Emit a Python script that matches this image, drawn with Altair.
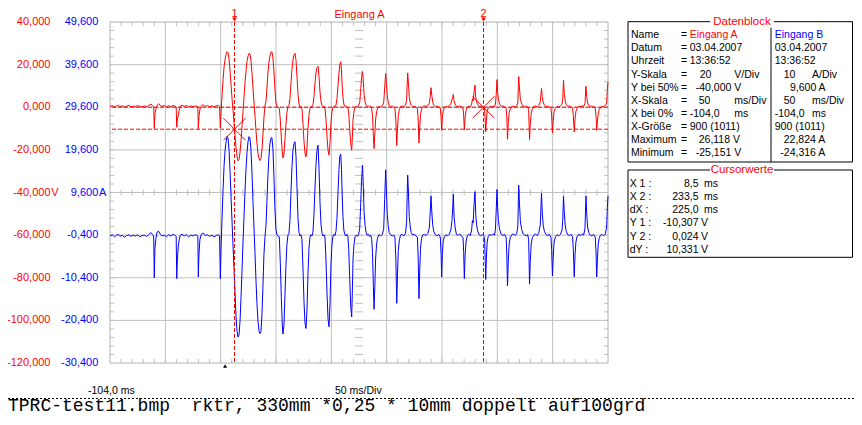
import altair as alt
import pandas as pd

# ------------------------------------------------------------------ data
# sample times (ms) shared by both inputs, split in segments
t_pre = [-104.0, -102.0, -100.0, -98.0, -96.5, -95.0, -93.0, -91.0, -89.0, -87.0,
         -85.0, -83.0, -81.0, -79.0, -77.0, -75.0, -73.0, -71.0, -69.0, -67.0,
         -65.5, -64.5, -64.0, -63.4, -62.5, -61.5, -60.0, -58.5, -57.0, -55.0,
         -53.0, -51.0, -49.0, -47.0, -45.0, -44.2, -43.7, -43.1, -42.3, -41.5,
         -40.5, -39.0, -37.0, -35.0, -33.0, -31.0, -29.0, -27.0, -25.0, -24.6,
         -24.2, -23.6, -22.8, -21.5, -20.0, -18.0, -16.0, -14.0, -12.0, -10.0,
         -8.0, -6.0, -5.0, -4.3]
a_pre = [0.4, 0.8, 0.2, 0.6, 1.0, 0.3, 0.7, 0.1, 0.5, 0.9,
         0.2, 0.6, 0.3, 0.8, 0.4, 0.1, 0.6, 0.3, 0.9, 1.5,
         0.8, 0.2, -10.0, -3.0, -0.8, 0.9, 1.6, 0.9, 0.4, 0.8,
         0.2, 0.7, 0.3, 0.9, 0.5, 0.2, -9.4, -5.5, -4.0, -1.5,
         0.5, 0.9, 0.4, 0.8, 0.2, 0.6, 0.3, 0.7, 0.4, 0.1,
         -10.0, -4.5, -1.0, 0.6, 1.2, 0.4, 0.8, 0.3, 0.7, 0.2,
         0.6, 0.9, 0.3, -9.7]
b_pre = [-0.6, -0.3, -0.8, -0.4, -0.2, -0.7, -0.4, -0.9, -0.5, -0.3,
         -0.7, -0.4, -0.6, -0.3, -0.8, -0.5, -0.4, -0.7, -0.3, 0.2,
         -0.3, -0.6, -10.4, -3.5, -1.2, 0.3, 0.5, -0.2, -0.6, -0.4,
         -0.8, -0.3, -0.6, -0.2, -0.5, -0.7, -10.6, -6.0, -3.0, -1.5,
         -0.4, -0.2, -0.6, -0.3, -0.8, -0.4, -0.6, -0.3, -0.5, -0.7,
         -10.2, -5.0, -1.5, -0.2, 0.1, -0.5, -0.3, -0.7, -0.4, -0.8,
         -0.5, -0.3, -0.6, -10.6]

t_osc = [-3.6, -2.7, -1.8, -0.9, 0.0, 0.9, 1.8, 2.7, 3.6, 4.5,
         5.4, 6.3, 7.2, 8.1, 8.5, 9.0, 9.9, 10.8, 11.7, 12.6,
         13.5, 14.4, 15.3, 16.2, 17.1, 18.0, 18.9, 19.8, 20.7, 21.6,
         22.5, 23.4, 24.3, 25.2, 26.1, 27.0, 27.9, 28.8, 29.7, 30.6,
         31.5, 32.4, 33.3, 34.2, 35.1]
a_osc = [-2.0, 6.0, 13.0, 19.0, 22.5, 24.8, 26.1, 25.6, 22.5, 17.0,
         10.5, 4.0, -1.5, -7.5, -10.3, -13.5, -19.0, -23.0, -25.1, -24.5,
         -21.0, -15.5, -9.0, -2.0, 5.0, 11.5, 17.0, 21.5, 24.0, 25.3,
         25.0, 22.0, 16.0, 9.0, 2.5, -4.0, -11.0, -17.0, -21.5, -24.0,
         -25.0, -24.2, -20.0, -13.0, -5.0]
b_osc = [-3.0, 4.0, 10.5, 16.0, 19.5, 21.5, 22.8, 22.3, 19.5, 14.5,
         8.5, 2.5, -3.0, -8.5, -11.0, -14.0, -19.5, -23.0, -24.3, -23.8,
         -20.5, -15.0, -8.5, -2.0, 4.0, 10.0, 15.0, 19.0, 21.5, 22.7,
         22.4, 19.5, 14.0, 7.5, 1.5, -4.5, -11.0, -16.5, -20.5, -22.8,
         -23.5, -23.0, -19.0, -12.5, -5.0]

t_pulse = [36.0, 37.0, 37.8, 38.7, 39.6, 40.5, 41.4, 42.3, 43.2, 44.1,
           45.0, 45.9, 46.8, 47.7, 49.0, 49.9, 50.8, 51.7, 52.3, 53.2,
           54.1, 55.0, 55.9, 56.8, 57.7, 58.6, 59.5, 60.4, 61.3, 62.2,
           63.2, 64.1, 65.0, 65.9, 66.8, 67.7, 68.6, 69.5, 70.4, 71.3,
           72.2, 73.1, 74.0, 74.9, 75.8, 76.7, 77.6, 78.5, 79.4, 80.3,
           81.2, 82.1, 83.0, 84.0, 84.9, 85.8, 86.7, 87.6, 88.5, 89.4,
           90.3, 91.2, 92.1, 93.0, 93.9, 94.8, 95.7, 96.6, 97.5, 98.4,
           99.3, 100.2, 101.1, 102.0, 102.9, 103.6, 104.5, 105.2, 105.8, 106.5,
           107.3, 108.2, 109.1, 110.0, 111.0, 111.7, 112.6, 113.5, 114.4, 115.0,
           115.6, 116.5, 117.4]
a_pulse = [0.5, 3.0, 9.0, 16.0, 21.0, 24.0, 25.8, 26.0, 23.5, 17.0,
           9.0, 2.5, 0.5, 0.2, -0.5, -6.0, -14.0, -21.0, -23.8, -22.0,
           -15.0, -8.0, -2.5, 0.3, 0.8, 4.0, 11.0, 17.5, 22.0, 24.5,
           25.3, 22.0, 14.0, 6.0, 1.5, 0.3, 0.5, -1.0, -8.0, -16.0,
           -21.5, -23.3, -19.0, -10.0, -3.5, -0.5, 0.4, 0.2, 1.0, 5.0,
           11.0, 16.0, 18.5, 19.2, 14.0, 7.0, 2.5, 0.8, 0.2, 0.5,
           -0.5, -6.0, -14.0, -20.0, -22.5, -17.0, -7.0, -2.0, 0.0, 0.5,
           0.3, 1.0, 4.0, 10.0, 16.0, 20.0, 21.3, 17.0, 10.0, 5.0,
           1.5, 0.4, 0.6, 0.2, -0.3, -3.0, -10.0, -17.0, -20.2, -14.0,
           -6.0, -2.0, -0.2]
b_pulse = [-1.0, 2.0, 7.5, 13.5, 18.0, 21.0, 22.3, 22.5, 20.0, 13.5,
           6.0, 1.0, -0.3, -0.6, -0.8, -7.0, -15.0, -21.5, -23.6, -21.5,
           -14.5, -7.5, -2.5, -0.4, 0.0, 3.0, 9.5, 15.5, 19.5, 21.0,
           21.5, 18.0, 10.5, 3.5, 0.2, -0.6, -0.3, -1.5, -8.5, -16.0,
           -21.0, -22.3, -18.0, -9.5, -3.5, -0.9, -0.3, -0.6, 0.3, 4.5,
           10.5, 16.0, 19.5, 20.7, 15.0, 7.0, 2.0, 0.0, -0.6, -0.3,
           -1.0, -6.5, -14.0, -20.0, -21.9, -16.5, -7.0, -2.5, -0.6, -0.2,
           -0.5, 0.5, 3.5, 9.5, 15.0, 18.0, 18.6, 15.0, 9.0, 4.0,
           0.8, -0.3, -0.6, -0.2, -0.8, -3.5, -10.5, -17.0, -19.6, -13.5,
           -6.0, -2.5, -0.8]

t_spike = [118.5, 119.5, 120.5, 121.6, 122.4, 123.3, 124.2, 124.9, 125.6, 126.5,
           127.4, 128.3, 129.5, 130.5, 131.5, 132.4, 133.2, 134.0, 134.6, 135.3,
           136.0, 136.9, 137.8, 139.0, 140.5, 142.0, 143.3, 144.2, 145.1, 145.8,
           146.5, 147.4, 148.3, 149.5, 151.0, 152.5, 153.5, 154.3, 155.1, 155.8,
           156.5, 157.5, 158.5, 160.0, 161.5, 163.0, 164.0, 164.5, 165.0, 165.7,
           166.4, 167.3, 168.2, 169.5, 171.0, 172.5, 173.8, 174.5, 175.2, 175.9,
           176.6, 177.5, 178.5, 180.0, 181.5, 183.0, 184.5, 185.4, 186.1, 186.8,
           187.6, 188.5, 190.0, 191.5, 193.0, 194.5, 195.2, 195.7, 196.3, 197.0,
           198.0, 199.5, 201.0, 202.5, 204.0, 205.0, 205.6, 206.2, 206.9, 207.8,
           209.0, 210.5, 212.0, 213.5, 215.0, 215.6, 216.2, 216.9, 217.7, 218.8,
           220.0, 221.5, 222.8, 223.5, 224.2, 224.9, 225.8, 226.5, 227.3, 228.2,
           229.5, 231.0, 232.5, 233.5, 234.5, 235.0, 235.5, 236.1, 236.8, 237.8,
           239.0, 240.5, 242.0, 243.5, 244.3, 245.0, 245.7, 246.3, 247.0, 248.0,
           249.5, 251.0, 252.5, 254.0, 254.6, 255.2, 255.9, 256.7, 257.7, 259.0,
           260.5, 262.0, 263.5, 264.5, 265.3, 266.0, 266.8, 267.8, 269.0, 270.5,
           272.0, 273.5, 274.3, 275.1, 275.8, 276.6, 277.6, 279.0, 280.5, 282.0,
           283.5, 284.8, 285.9, 286.6, 287.4, 288.5, 290.0, 291.5, 293.0, 294.5,
           295.1, 295.8, 296.5, 297.3, 298.5, 300.0, 301.5, 303.0, 304.5, 305.1,
           305.8, 306.5, 307.3, 308.3, 309.5, 311.0, 312.5, 314.0, 314.7, 315.5,
           316.2, 317.0, 318.0, 319.5, 321.0, 322.5, 324.0, 325.2, 326.1, 326.8,
           327.6, 328.6, 330.0, 331.5, 333.0, 334.5, 335.2, 335.8, 336.5, 337.2,
           338.0, 339.0, 340.5, 342.0, 343.5, 344.8, 345.4, 346.0]
a_spike = [0.5, 0.2, 0.8, 2.0, 7.0, 14.0, 16.8, 12.0, 6.0, 2.5,
           1.0, 0.3, 0.6, 0.1, 0.4, -0.5, -4.0, -13.0, -19.4, -13.0,
           -6.0, -2.0, -0.5, 0.4, 0.2, 0.7, 2.0, 9.0, 15.8, 11.0,
           5.5, 2.5, 0.8, 0.3, 0.6, 0.0, -0.5, -6.0, -17.9, -10.0,
           -4.0, -1.0, 0.3, 0.6, 0.2, 0.9, 3.0, 10.0, 16.1, 11.0,
           5.0, 2.0, 0.8, 0.2, 0.5, 0.1, -0.4, -6.0, -16.8, -9.0,
           -3.5, -1.0, 0.2, 0.7, 0.3, 0.9, 1.8, 5.0, 9.2, 5.5,
           2.5, 1.0, 0.3, 0.6, 0.1, -0.5, -5.0, -10.8, -5.0, -2.0,
           -0.5, 0.4, 0.2, 0.8, 1.5, 3.5, 4.5, 6.0, 3.0, 1.5,
           0.4, 0.2, 0.7, 0.1, -0.5, -4.0, -10.6, -4.5, -1.5, 0.0,
           0.5, 0.2, 1.5, 4.0, 3.0, 7.0, 10.4, 4.5, 2.5, 1.2,
           0.3, 0.5, 0.1, 0.024, -0.8, -6.0, -11.6, -6.5, -2.0, -0.3,
           0.4, 0.1, 0.6, 0.3, 1.5, 6.0, 13.0, 7.0, 3.5, 1.5,
           0.4, 0.6, 0.2, -0.5, -5.0, -15.0, -7.0, -2.5, -0.8, 0.3,
           0.5, 0.1, 0.7, 2.0, 14.4, 9.0, 4.0, 2.0, 0.5, 0.3,
           0.6, 0.1, -1.0, -15.2, -8.0, -3.0, -1.0, 0.3, 0.6, 0.2,
           0.8, 2.5, 8.8, 5.0, 2.5, 1.0, 0.3, 0.5, 0.1, -0.6,
           -4.0, -12.1, -6.0, -2.0, -0.5, 0.4, 0.2, 0.6, 1.5, 4.0,
           12.7, 6.5, 3.0, 1.2, 0.4, 0.6, 0.1, -0.4, -4.0, -11.6,
           -5.5, -2.0, -0.5, 0.5, 0.2, 0.7, 0.4, 1.8, 9.9, 5.0,
           2.0, 0.8, 0.3, 0.6, 0.1, -0.5, -4.5, -10.8, -6.0, -3.0,
           -1.2, -0.3, 0.5, 0.3, 0.8, 2.0, 8.0, 11.9]
b_spike = [-0.4, -0.7, -0.3, 1.0, 6.0, 12.5, 16.0, 11.0, 5.0, 1.8,
           0.3, -0.4, -0.2, -0.7, -0.4, -1.2, -4.5, -12.5, -17.8, -12.5,
           -6.0, -2.5, -1.0, -0.3, -0.6, -0.2, 1.0, 8.0, 14.9, 10.0,
           4.5, 1.8, 0.2, -0.3, -0.6, -0.4, -1.0, -6.0, -16.4, -9.5,
           -4.0, -1.5, -0.4, -0.2, -0.6, 0.0, 2.5, 8.5, 13.7, 9.5,
           4.0, 1.5, 0.2, -0.4, -0.2, -0.6, -0.9, -6.0, -15.3, -8.5,
           -3.5, -1.2, -0.4, -0.2, -0.5, -0.1, 1.2, 5.0, 8.8, 5.0,
           2.0, 0.5, -0.3, -0.6, -0.2, -0.9, -5.0, -10.2, -5.0, -2.0,
           -0.8, -0.3, -0.6, -0.2, 0.8, 3.0, 5.5, 9.2, 4.0, 1.5,
           -0.2, -0.5, -0.1, -0.6, -1.0, -4.5, -10.6, -5.0, -2.0, -0.6,
           -0.2, -0.5, 0.8, 3.0, 2.5, 6.5, 9.8, 4.5, 2.0, 0.6,
           -0.3, -0.6, -0.2, -0.4, -1.2, -6.0, -10.8, -6.0, -2.0, -0.7,
           -0.2, -0.5, -0.1, -0.4, 1.0, 5.5, 10.3, 6.0, 3.0, 1.0,
           -0.2, -0.5, -0.2, -1.0, -5.5, -12.3, -6.5, -2.5, -1.0, -0.3,
           -0.1, -0.5, 0.0, 1.5, 11.3, 7.0, 3.0, 1.2, 0.0, -0.3,
           -0.6, -0.3, -1.5, -11.9, -6.5, -2.5, -1.0, -0.4, -0.1, -0.5,
           0.2, 2.0, 9.4, 5.0, 2.0, 0.5, -0.3, -0.5, -0.2, -1.0,
           -4.0, -10.0, -5.5, -2.0, -0.8, -0.3, -0.6, -0.2, 0.8, 3.0,
           8.8, 5.0, 2.0, 0.5, -0.3, -0.5, -0.2, -0.8, -4.0, -10.2,
           -5.0, -2.0, -0.8, -0.2, -0.5, -0.1, -0.4, 1.2, 8.8, 4.5,
           1.5, 0.2, -0.4, -0.6, -0.2, -0.9, -4.5, -10.2, -5.5, -2.5,
           -1.2, -0.5, -0.2, -0.6, -0.2, 1.5, 6.0, 8.8]

time_ms = t_pre + t_osc + t_pulse + t_spike
eingang_a = a_pre + a_osc + a_pulse + a_spike      # V
eingang_b = b_pre + b_osc + b_pulse + b_spike      # A

# axis labels
red_ticks = [40, 20, 0, -20, -40, -60, -80, -100, -120]
red_labels = ["40,000", "20,000", "0,000", "-20,000", "-40,000", "-60,000",
              "-80,000", "-100,000", "-120,000"]
blue_ticks = [49.6, 39.6, 29.6, 19.6, 9.6, -0.4, -10.4, -20.4, -30.4]
blue_labels = ["49,600", "39,600", "29,600", "19,600", "9,600", "-0,400",
               "-10,400", "-20,400", "-30,400"]

# cursors
cursor_x = [8.5, 233.5]
cursor_y = [-10.307, 0.024]
cursor_names = ["1", "2"]
trigger_ms = [0.0]

# data block
db_labels = ["Name", "Datum", "Uhrzeit", "Y-Skala", "Y bei 50%", "X-Skala",
             "X bei 0%", "X-Größe", "Maximum", "Minimum"]
db_a_text = ["Eingang A", "03.04.2007", "13:36:52", "20", "-40,000 V", "50",
             "-104,0", "900 (1011)", "26,118 V", "-25,151 V"]
db_a_unit = ["", "", "", "V/Div", "", "ms/Div", "ms", "", "", ""]
db_b_text = ["Eingang B", "03.04.2007", "13:36:52", "10", "9,600 A", "50",
             "-104,0", "900 (1011)", "22,824 A", "-24,316 A"]
db_b_unit = ["", "", "", "A/Div", "", "ms/Div", "ms", "", "", ""]

cw_labels = ["X 1 :", "X 2 :", "dX :", "Y 1 :", "Y 2 :", "dY :"]
cw_values = ["8,5", "233,5", "225,0", "-10,307", "0,024", "10,331"]
cw_units = ["ms", "ms", "ms", "V", "V", "V"]

footer_text = "TPRC-test11.bmp\u00a0\u00a0rktr, 330mm *0,25 * 10mm doppelt auf100grd"

# ------------------------------------------------------------------ layout
W, H = 498, 341
RED, BLUE, GRID, BORDER = "#ff0000", "#0000ff", "#c0c0c0", "#b0b0b0"
SANS = "Liberation Sans, Arial, sans-serif"
MONO = "Liberation Mono, Courier New, monospace"

xs = alt.Scale(domain=[-104, 346], nice=False, zero=False)
ys_a = alt.Scale(domain=[-120, 40], nice=False, zero=False)
ys_b = alt.Scale(domain=[-30.4, 49.6], nice=False, zero=False)


def X(f):
    return alt.X(f, type="quantitative", scale=xs, axis=None)


def YA(f):
    return alt.Y(f, type="quantitative", scale=ys_a, axis=None)


def YB(f):
    return alt.Y(f, type="quantitative", scale=ys_b, axis=None)


def PX(f):
    return alt.X(f, type="quantitative", scale=None, axis=None)


def PY(f):
    return alt.Y(f, type="quantitative", scale=None, axis=None)


one = pd.DataFrame({"k": [0]})
layers = []

# grid
grid_t = pd.DataFrame({"t": [-104 + 50 * k for k in range(1, 9)]})
grid_v = pd.DataFrame({"v": [-120 + 20 * k for k in range(1, 8)]})
layers.append(alt.Chart(grid_t).mark_rule(color=GRID, strokeWidth=1).encode(x=X("t")))
layers.append(alt.Chart(grid_v).mark_rule(color=GRID, strokeWidth=1).encode(y=YA("v")))

# minor ticks
minor_t = pd.DataFrame({"t": [-104 + 10 * k for k in range(1, 45)]})
minor_v = pd.DataFrame({"v": [-120 + 4 * k for k in range(1, 40)]})
for y0, y1 in [(0, 4), (H - 4, H), (H / 2 - 3, H / 2 + 3)]:
    layers.append(alt.Chart(minor_t).mark_rule(color=GRID, strokeWidth=1).encode(
        x=X("t"), y=alt.value(y0), y2=alt.value(y1)))
for x0, x1 in [(0, 4), (W - 4, W), (W / 2 - 4, W / 2 + 4)]:
    layers.append(alt.Chart(minor_v).mark_rule(color=GRID, strokeWidth=1).encode(
        y=YA("v"), x=alt.value(x0), x2=alt.value(x1)))

# plot border
layers.append(alt.Chart(one).mark_rect(filled=False, color=BORDER, strokeWidth=1).encode(
    x=alt.value(0), x2=alt.value(W), y=alt.value(0), y2=alt.value(H)))

# traces
tr = pd.DataFrame({"t": time_ms, "a": eingang_a, "b": eingang_b})
layers.append(alt.Chart(tr).mark_line(color=BLUE, strokeWidth=1).encode(x=X("t"), y=YB("b")))
layers.append(alt.Chart(tr).mark_line(color=RED, strokeWidth=1).encode(x=X("t"), y=YA("a")))

# cursors
cur = pd.DataFrame({"t": cursor_x, "v": cursor_y, "n": cursor_names})
layers.append(alt.Chart(cur).mark_rule(color=RED, strokeWidth=1, strokeDash=[4, 2]).encode(x=X("t")))
layers.append(alt.Chart(cur).mark_rule(color=RED, strokeWidth=1, strokeDash=[4, 2]).encode(y=YA("v")))
layers.append(alt.Chart(cur).mark_point(shape="M-1,-1L1,1M1,-1L-1,1", size=484, color=RED,
                                        filled=False, strokeWidth=1, opacity=1).encode(
    x=X("t"), y=YA("v")))
layers.append(alt.Chart(cur).mark_text(color=RED, font=SANS, fontSize=11, baseline="middle").encode(
    x=X("t"), y=alt.value(-8), text="n:N"))
layers.append(alt.Chart(cur).mark_point(shape="triangle-down", filled=True, size=22, color=RED,
                                        opacity=1).encode(x=X("t"), y=alt.value(-2.5)))

# trigger marker
trig = pd.DataFrame({"t": trigger_ms})
layers.append(alt.Chart(trig).mark_point(shape="triangle-up", filled=True, size=16, color="black",
                                         opacity=1).encode(x=X("t"), y=alt.value(344)))

# left axis labels
RED_RIGHT, BLUE_RIGHT = 50.5 - 110, 98.3 - 110
ra = pd.DataFrame({"v": red_ticks, "lab": red_labels})
ba = pd.DataFrame({"v": blue_ticks, "lab": blue_labels})
layers.append(alt.Chart(ra).mark_text(color=RED, font=SANS, fontSize=11, align="right",
                                      baseline="middle").encode(
    x=alt.value(RED_RIGHT), y=YA("v"), text="lab:N"))
layers.append(alt.Chart(ba).mark_text(color=BLUE, font=SANS, fontSize=11, align="right",
                                      baseline="middle").encode(
    x=alt.value(BLUE_RIGHT), y=YB("v"), text="lab:N"))
layers.append(alt.Chart(pd.DataFrame({"v": [-40]})).mark_text(
    color=RED, font=SANS, fontSize=11, align="left", baseline="middle").encode(
    x=alt.value(RED_RIGHT + 0.8), y=YA("v"), text=alt.value("V")))
layers.append(alt.Chart(pd.DataFrame({"v": [9.6]})).mark_text(
    color=BLUE, font=SANS, fontSize=11, align="left", baseline="middle").encode(
    x=alt.value(BLUE_RIGHT + 0.8), y=YB("v"), text=alt.value("A")))

# title and bottom labels
layers.append(alt.Chart(one).mark_text(color=RED, font=SANS, fontSize=11, align="center",
                                       baseline="alphabetic").encode(
    x=alt.value(249.5), y=alt.value(-4.5), text=alt.value("Eingang A")))
layers.append(alt.Chart(one).mark_text(color="black", font=SANS, fontSize=10.5, align="left",
                                       baseline="middle").encode(
    x=alt.value(-22), y=alt.value(369), text=alt.value("-104,0 ms")))
layers.append(alt.Chart(one).mark_text(color="black", font=SANS, fontSize=10.5, align="left",
                                       baseline="middle").encode(
    x=alt.value(225), y=alt.value(369), text=alt.value("50 ms/Div")))
layers.append(alt.Chart(one).mark_rule(color="black", strokeWidth=1, strokeDash=[2, 2]).encode(
    x=alt.value(-102), x2=alt.value(744), y=alt.value(376.5)))
layers.append(alt.Chart(one).mark_text(color="black", font=MONO, fontSize=18, align="left",
                                       baseline="alphabetic").encode(
    x=alt.value(-102), y=alt.value(388.5), text=alt.value(footer_text)))

# ------------------------------------------------------------------ data panels
SH = 113  # reference pixel -> plot-group pixel (x)
TOP = 22  # reference pixel -> plot-group pixel (y)
BOX_L, BOX_R = 631 - SH, 852.5 - 110
db_rows_y = [35, 48.3, 61.3, 74.7, 87.7, 101, 114, 127, 140, 153.3]
db_a_x = [692.7, 692.7, 692.7, 702.7, 698.7, 701.7, 692.7, 692.7, 701.7, 698.7]
db_b_x = [777.7, 777.7, 777.7, 786.7, 793.0, 786.7, 777.7, 777.7, 786.7, 783.3]
cw_rows_y = [184, 197, 210.3, 223, 236.7, 249.7]

# boxes
layers.append(alt.Chart(one).mark_rect(filled=False, color="black", strokeWidth=1).encode(
    x=alt.value(BOX_L), x2=alt.value(BOX_R), y=alt.value(21.7 - TOP), y2=alt.value(162 - TOP)))
layers.append(alt.Chart(one).mark_rule(color="black", strokeWidth=1).encode(
    x=alt.value(774 - SH), y=alt.value(23 - TOP), y2=alt.value(162 - TOP)))
layers.append(alt.Chart(one).mark_rect(filled=False, color="black", strokeWidth=1).encode(
    x=alt.value(BOX_L), x2=alt.value(BOX_R), y=alt.value(170 - TOP), y2=alt.value(257.3 - TOP)))
for ty, title in [(21.7, "Datenblock"), (170, "Cursorwerte")]:
    layers.append(alt.Chart(one).mark_rect(color="white").encode(
        x=alt.value(745 - SH - 32), x2=alt.value(745 - SH + 32),
        y=alt.value(ty - TOP - 6), y2=alt.value(ty - TOP + 6)))
    layers.append(alt.Chart(one).mark_text(color=RED, font=SANS, fontSize=11.5, align="center",
                                           baseline="middle").encode(
        x=alt.value(745 - SH), y=alt.value(ty - TOP), text=alt.value(title)))

left_rows = []
for i, lab in enumerate(db_labels):
    yy = db_rows_y[i] - TOP
    left_rows.append((634 - SH, yy, lab, "black"))
    left_rows.append((684 - SH, yy, "=", "black"))
    left_rows.append((db_a_x[i] - SH, yy, db_a_text[i], RED if i == 0 else "black"))
    left_rows.append((db_b_x[i] - SH, yy, db_b_text[i], BLUE if i == 0 else "black"))
    if db_a_unit[i]:
        left_rows.append((737.3 - SH, yy, db_a_unit[i], "black"))
    if db_b_unit[i]:
        left_rows.append((815 - SH, yy, db_b_unit[i], "black"))
for i, lab in enumerate(cw_labels):
    yy = cw_rows_y[i] - TOP
    left_rows.append((632.7 - SH, yy, lab, "black"))
    left_rows.append(((707 if cw_units[i] == "ms" else 704) - SH, yy, cw_units[i], "black"))
ldf = pd.DataFrame(left_rows, columns=["px", "py", "txt", "col"])
layers.append(alt.Chart(ldf).mark_text(font=SANS, fontSize=10.5, align="left",
                                       baseline="middle").encode(
    x=PX("px"), y=PY("py"), text="txt:N", color=alt.Color("col:N", scale=None, legend=None)))

right_rows = [(701.5 - SH, cw_rows_y[i] - TOP, v) for i, v in enumerate(cw_values)]
rdf = pd.DataFrame(right_rows, columns=["px", "py", "txt"])
layers.append(alt.Chart(rdf).mark_text(font=SANS, fontSize=10.5, align="right", color="black",
                                       baseline="middle").encode(
    x=PX("px"), y=PY("py"), text="txt:N"))

chart = alt.layer(*layers).resolve_scale(y="independent").properties(
    width=W, height=H,
    padding={"left": 102, "top": 14, "right": 246, "bottom": 54},
    autosize=alt.AutoSizeParams(type="none"),
    background="white",
).configure_view(stroke=None)

chart.save("out.html", embed_options={"renderer": "svg", "actions": False})
